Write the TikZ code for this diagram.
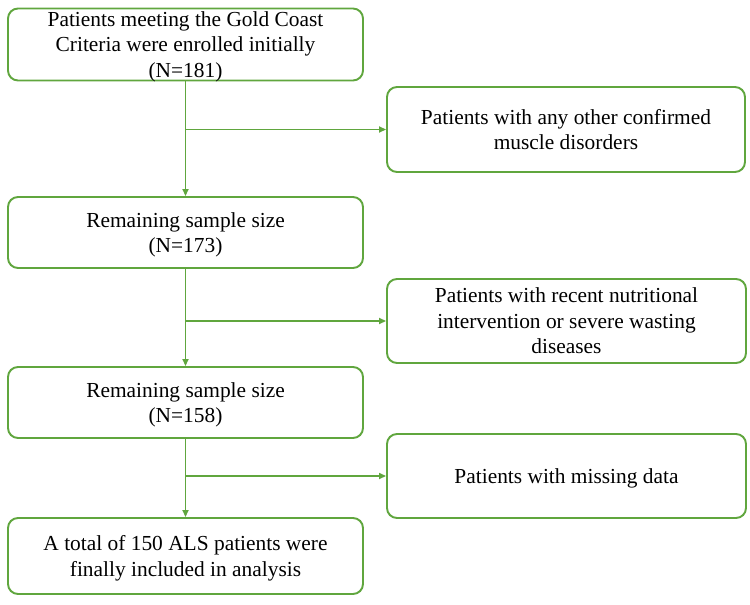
\documentclass[tikz,border=0pt]{standalone}
\usepackage{fontspec}
\setmainfont{Liberation Serif}
\usetikzlibrary{arrows.meta}
\definecolor{flowgreen}{RGB}{96,166,62}

\begin{document}
\begin{tikzpicture}[x=1pt,y=-1pt,>={Triangle[length=7pt,width=6pt]},
  box/.style={draw=flowgreen,line width=1.9pt,rounded corners=10pt,align=center,
    font=\fontsize{21.4}{25.5}\selectfont,inner sep=0pt,text depth=-2pt},
  link/.style={draw=flowgreen,line width=1.6pt,->,>={Triangle[length=7pt,width=6pt]}}]
\useasboundingbox (0,0) rectangle (750,605);
% left column
\node[box,minimum width=355,minimum height=72] (l1) at (185.5,44.5)
  {Patients meeting the Gold Coast\\Criteria were enrolled initially\\(N=181)};
\node[box,minimum width=355,minimum height=71] (l2) at (185.5,232.5)
  {Remaining sample size\\(N=173)};
\node[box,minimum width=355,minimum height=71] (l3) at (185.5,402.5)
  {Remaining sample size\\(N=158)};
\node[box,minimum width=355,minimum height=76] (l4) at (185.5,556)
  {A total of 150 ALS patients were\\finally included in analysis};
% right column
\node[box,minimum width=358,minimum height=85] (r1) at (566,129.5)
  {Patients with any other confirmed\\muscle disorders};
\node[box,minimum width=359,minimum height=84] (r2) at (566.5,321)
  {Patients with recent nutritional\\intervention or severe wasting\\diseases};
\node[box,minimum width=359,minimum height=84] (r3) at (566.5,476)
  {Patients with missing data};
% connectors
\coordinate (b1) at (l1.south |- r1.west);
\coordinate (b2) at (l2.south |- r2.west);
\coordinate (b3) at (l3.south |- r3.west);
\draw[link] (l1.south) -- (l2.north);
\draw[link] (l2.south) -- (l3.north);
\draw[link] (l3.south) -- (l4.north);
\draw[link] (b1) -- (r1.west);
\draw[link] (b2) -- (r2.west);
\draw[link] (b3) -- (r3.west);
\end{tikzpicture}
\end{document}
